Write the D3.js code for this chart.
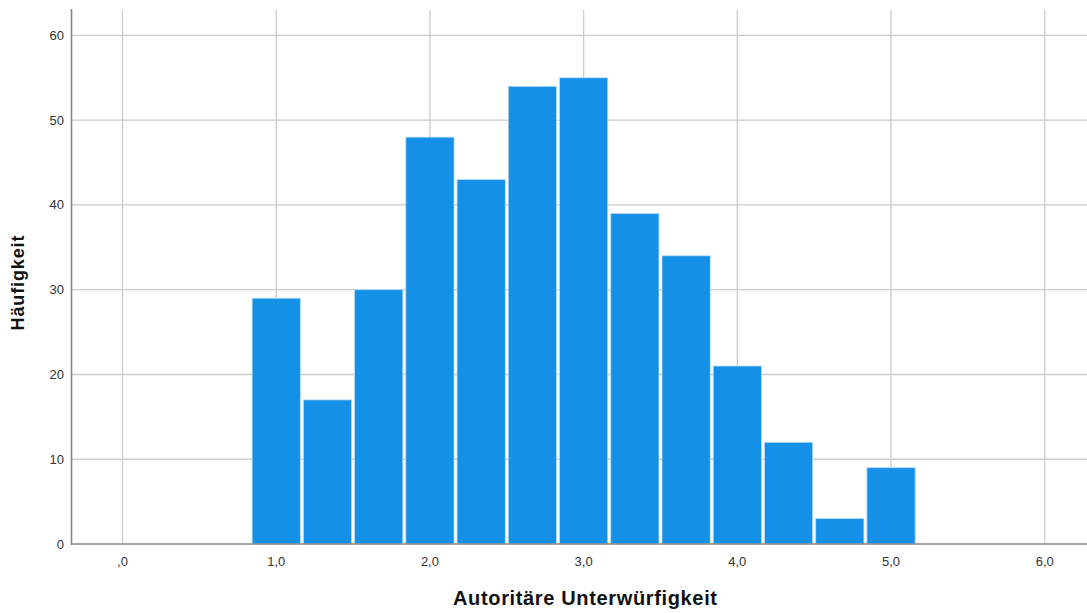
<!DOCTYPE html>
<html><head><meta charset="utf-8">
<script src="https://cdn.jsdelivr.net/npm/d3@7"></script>
<style>body{margin:0;background:#fff;}svg{display:block;font-family:Arial,"Liberation Sans",sans-serif;}</style>
</head><body><svg id="c" width="1087" height="613"></svg>
<script>
const binCenters = [1.0, 1.3333, 1.6667, 2.0, 2.3333, 2.6667, 3.0, 3.3333, 3.6667, 4.0, 4.3333, 4.6667, 5.0];
const counts = [29, 17, 30, 48, 43, 54, 55, 39, 34, 21, 12, 3, 9];
const binWidth = 1/3;
const xTicks = [0, 1, 2, 3, 4, 5, 6];
const xTickLabels = [",0", "1,0", "2,0", "3,0", "4,0", "5,0", "6,0"];
const yTicks = [0, 10, 20, 30, 40, 50, 60];
const xTitle = "Autoritäre Unterwürfigkeit";
const yTitle = "Häufigkeit";

const svg = d3.select("#c");
const L = 71.5, R = 1087, T = 10, B = 544;
const x = d3.scaleLinear().domain([-0.332, 6.275]).range([L, R]);
const y = d3.scaleLinear().domain([0, 63]).range([B, T]);

// grid
svg.append("g").selectAll("line").data(yTicks.filter(d=>d>0)).join("line")
  .attr("x1", L).attr("x2", R).attr("y1", d=>y(d)).attr("y2", d=>y(d))
  .attr("stroke", "#cccccc").attr("stroke-width", 1.3);
svg.append("g").selectAll("line").data(xTicks).join("line")
  .attr("x1", d=>x(d)).attr("x2", d=>x(d)).attr("y1", T).attr("y2", B)
  .attr("stroke", "#cccccc").attr("stroke-width", 1.3);

// bars
svg.append("g").selectAll("rect").data(binCenters).join("rect")
  .attr("x", (d)=>x(d - binWidth/2) + 1.5)
  .attr("width", d=>x(d + binWidth/2) - x(d - binWidth/2) - 3)
  .attr("y", (d,i)=>y(counts[i]))
  .attr("height", (d,i)=>B - y(counts[i]))
  .attr("fill", "#1490e6").attr("stroke", "#b8dcf6").attr("stroke-width", 0.8);

// axes lines
svg.append("line").attr("x1", L).attr("x2", L).attr("y1", T-1).attr("y2", B+1)
  .attr("stroke", "#888").attr("stroke-width", 1.6);
svg.append("line").attr("x1", L).attr("x2", R).attr("y1", B).attr("y2", B)
  .attr("stroke", "#888").attr("stroke-width", 1.6);

// tick labels
svg.append("g").selectAll("text").data(yTicks).join("text")
  .attr("x", 64).attr("y", d=>y(d)+4.5).attr("text-anchor", "end")
  .attr("font-size", 13).attr("fill", "#333").text(d=>d);
svg.append("g").selectAll("text").data(xTicks).join("text")
  .attr("x", d=>x(d)).attr("y", 566).attr("text-anchor", "middle")
  .attr("font-size", 13).attr("fill", "#333").text((d,i)=>xTickLabels[i]);

// titles
svg.append("text").attr("x", 585).attr("y", 605).attr("text-anchor", "middle")
  .attr("font-size", 20).attr("font-weight", "bold").attr("fill", "#111")
  .attr("textLength", 264).attr("lengthAdjust", "spacing").text(xTitle);
svg.append("text").attr("transform", "translate(24,283) rotate(-90)").attr("text-anchor", "middle")
  .attr("font-size", 18).attr("font-weight", "bold").attr("fill", "#111")
  .attr("textLength", 95).attr("lengthAdjust", "spacing").text(yTitle);
</script></body></html>
